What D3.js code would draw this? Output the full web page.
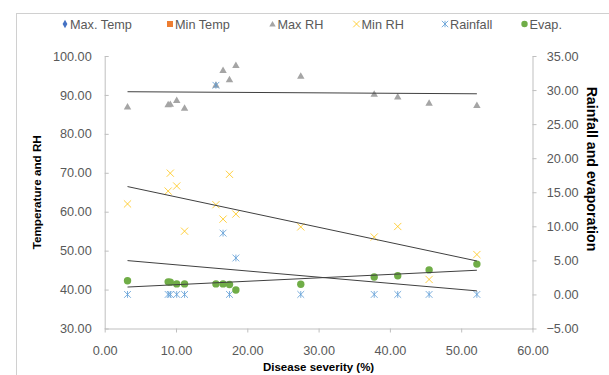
<!DOCTYPE html>
<html>
<head>
<meta charset="utf-8">
<script src="https://cdnjs.cloudflare.com/ajax/libs/d3/7.8.5/d3.min.js"></script>
<style>
  html, body { margin: 0; padding: 0; background: #fff; }
  svg { display: block; font-family: "Liberation Sans", Arial, sans-serif; }
</style>
</head>
<body>
<div id="chart"></div>
<script>
// disease severity (%) for each observation
const severity = [3.2, 8.9, 9.2, 10.1, 11.2, 15.6, 16.6, 17.5, 18.4, 27.5, 37.8, 41.1, 45.5, 52.2]
// left axis series
const maxRH = [87.0, 87.6, 87.7, 88.7, 86.7, 92.6, 96.4, 94.0, 97.7, 94.9, 90.3, 89.6, 88.0, 87.4]
const minRH = [62.0, 65.3, 69.9, 66.6, 55.0, 61.8, 58.1, 69.6, 59.4, 56.1, 53.5, 56.2, 42.6, 49.0]
// right axis series
const rainfall = [0, 0, 0, 0, 0, 30.7, 9.0, 0, 5.35, 0, 0, 0, 0, 0]
const evap = [2.0, 1.85, 1.8, 1.55, 1.55, 1.55, 1.55, 1.45, 0.65, 1.5, 2.55, 2.75, 3.6, 4.45]

const legendNames = ["Max. Temp", "Min Temp", "Max RH", "Min RH", "Rainfall", "Evap."]
const xTicks = [0, 10, 20, 30, 40, 50, 60]
const yLeftTicks = [30, 40, 50, 60, 70, 80, 90, 100]
const yRightTicks = [-5, 0, 5, 10, 15, 20, 25, 30, 35]

const W = 609, H = 375
const plot = { left: 104.7, right: 532.5, top: 56, bottom: 328.5 }
const legendX = [65, 170, 272.5, 356.5, 445, 524.5]
const fmt = d3.format(".2f")
const labelColor = "#595959"
const axisColor = "#bfbfbf"

const svg = d3.select("#chart").append("svg").attr("width", W).attr("height", H)

// chart area border (runs off the right / bottom edge)
svg.append("rect").attr("x", 16.5).attr("y", 13.5).attr("width", 640).attr("height", 400)
  .attr("fill", "none").attr("stroke", "#d0d0d0")

const x = d3.scaleLinear().domain([0, 60]).range([plot.left, plot.right])
const yL = d3.scaleLinear().domain([30, 100]).range([plot.bottom, plot.top])
const yR = d3.scaleLinear().domain([-5, 35]).range([plot.bottom, plot.top])

function styleAxis(g) {
  g.select(".domain").attr("stroke", axisColor)
  g.selectAll(".tick line").attr("stroke", axisColor)
  g.selectAll(".tick text").attr("fill", labelColor).attr("font-size", "12.7px")
}

svg.append("g").attr("transform", `translate(0,${plot.bottom})`)
  .call(d3.axisBottom(x).tickValues(xTicks).tickFormat(fmt).tickSizeOuter(0).tickSizeInner(4).tickPadding(13))
  .call(styleAxis)

svg.append("g").attr("transform", `translate(${plot.left},0)`)
  .call(d3.axisLeft(yL).tickValues(yLeftTicks).tickFormat(fmt).tickSizeOuter(0).tickSizeInner(-4).tickPadding(13))
  .call(styleAxis)

svg.append("g").attr("transform", `translate(${plot.right},0)`)
  .call(d3.axisRight(yR).tickValues(yRightTicks).tickFormat(fmt).tickSizeOuter(0).tickSizeInner(4).tickPadding(8))
  .call(styleAxis)
  .call(g => g.selectAll(".tick text").attr("text-anchor", "end").attr("dx", 34))

// axis titles
svg.append("text").attr("transform", `translate(41,${(plot.top + plot.bottom) / 2}) rotate(-90)`)
  .attr("text-anchor", "middle").attr("font-size", "11.7px").attr("font-weight", "bold")
  .text("Temperature and RH")
svg.append("text").attr("transform", `translate(587,169) rotate(90)`)
  .attr("text-anchor", "middle").attr("font-size", "14.2px").attr("font-weight", "bold")
  .text("Rainfall and evaporation")
svg.append("text").attr("x", (plot.left + plot.right) / 2).attr("y", 371)
  .attr("text-anchor", "middle").attr("font-size", "11.5px").attr("font-weight", "bold")
  .text("Disease severity (%)")

const pts = ys => severity.map((s, i) => ({ x: s, y: ys[i] }))

const asterisk = h => `M0,${-h}L0,${h}M${-h},${-h}L${h},${h}M${-h},${h}L${h},${-h}`
const cross = h => `M${-h},${-h}L${h},${h}M${-h},${h}L${h},${-h}`

const triSym = d3.symbol(d3.symbolTriangle, 24)
const g = svg.append("g")

g.selectAll(".maxrh").data(pts(maxRH)).join("path")
  .attr("d", triSym).attr("fill", "#a5a5a5")
  .attr("transform", d => `translate(${x(d.x)},${yL(d.y) + 0.8})`)

g.selectAll(".minrh").data(pts(minRH)).join("path")
  .attr("d", cross(3.6)).attr("fill", "none").attr("stroke", "#ffc000").attr("stroke-width", 1)
  .attr("stroke-opacity", 0.75)
  .attr("transform", d => `translate(${x(d.x)},${yL(d.y)})`)

g.selectAll(".rain").data(pts(rainfall)).join("path")
  .attr("d", asterisk(3.4)).attr("fill", "none").attr("stroke", "#5b9bd5").attr("stroke-width", 1)
  .attr("stroke-opacity", 0.8)
  .attr("transform", d => `translate(${x(d.x)},${yR(d.y)})`)

g.selectAll(".evap").data(pts(evap)).join("circle")
  .attr("cx", d => x(d.x)).attr("cy", d => yR(d.y)).attr("r", 3.7).attr("fill", "#70ad47")

// linear trendlines
function trend(data, y) {
  const mx = d3.mean(data, d => d.x), my = d3.mean(data, d => d.y)
  const sxy = d3.sum(data, d => (d.x - mx) * (d.y - my))
  const sxx = d3.sum(data, d => (d.x - mx) ** 2)
  const b = sxy / sxx, a = my - b * mx
  const [x0, x1] = d3.extent(data, d => d.x)
  svg.append("line")
    .attr("x1", x(x0)).attr("y1", y(a + b * x0))
    .attr("x2", x(x1)).attr("y2", y(a + b * x1))
    .attr("stroke", "#404040").attr("stroke-width", 1)
}
trend(pts(maxRH), yL)
trend(pts(minRH), yL)
trend(pts(rainfall), yR)
trend(pts(evap), yR)

// legend
const legendMarks = [
  s => s.append("path").attr("d", d3.symbol(d3.symbolDiamond, 20)).attr("fill", "#4472c4"),
  s => s.append("rect").attr("x", -3).attr("y", -3).attr("width", 6).attr("height", 6).attr("fill", "#ed7d31"),
  s => s.append("path").attr("d", d3.symbol(d3.symbolTriangle, 18)).attr("fill", "#a5a5a5").attr("transform", "translate(0,0.6)"),
  s => s.append("path").attr("d", cross(3.3)).attr("fill", "none").attr("stroke", "#ffc000").attr("stroke-opacity", 0.75),
  s => s.append("path").attr("d", asterisk(3.2)).attr("fill", "none").attr("stroke", "#5b9bd5").attr("stroke-opacity", 0.8),
  s => s.append("circle").attr("r", 3.2).attr("fill", "#70ad47")
]
const legend = svg.append("g")
legendNames.forEach((name, i) => {
  const item = legend.append("g").attr("transform", `translate(${legendX[i]},24)`)
  legendMarks[i](item)
  item.append("text").attr("x", 5).attr("y", 4.6).attr("font-size", "12.7px").attr("fill", labelColor).text(name)
})
</script>
</body>
</html>
